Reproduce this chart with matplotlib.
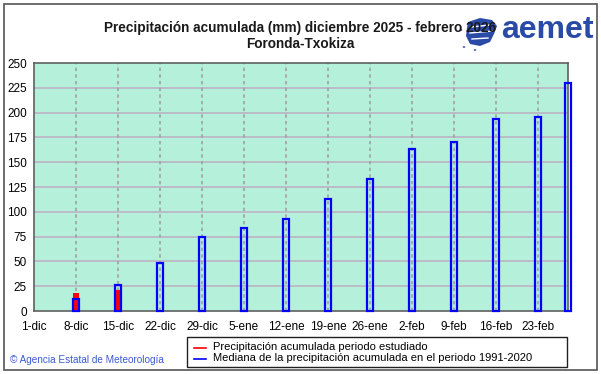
import matplotlib
matplotlib.use("Agg")
import matplotlib.pyplot as plt
from matplotlib.patches import Rectangle, Polygon, Circle
from matplotlib.lines import Line2D
import numpy as np

# Data (day offset from 1-dic)
tick_labels = ["1-dic", "8-dic", "15-dic", "22-dic", "29-dic", "5-ene", "12-ene",
               "19-ene", "26-ene", "2-feb", "9-feb", "16-feb", "23-feb"]
tick_days = [0, 7, 14, 21, 28, 35, 42, 49, 56, 63, 70, 77, 84]
median_days = [7, 14, 21, 28, 35, 42, 49, 56, 63, 70, 77, 84, 89]
median_vals = [12, 26, 48, 75, 84, 93, 113, 133, 163, 170, 194, 196, 230]
obs_days = [7, 14]
obs_vals = [18, 21]
yticks = [0, 25, 50, 75, 100, 125, 150, 175, 200, 225, 250]

W, H = 601, 374
fig = plt.figure(figsize=(W / 100, H / 100), dpi=100)
fig.patch.set_facecolor("white")

def fx(x):
    return x / W

def fy(y):
    return 1 - y / H

left, right, top, bottom = 34, 568, 63, 311
ax = fig.add_axes([fx(left), fy(bottom), (right - left) / W, (bottom - top) / H])
ax.set_facecolor("#b4f0da")
ax.set_xlim(0, 89)
ax.set_ylim(0, 250)

for y in yticks[1:-1]:
    ax.axhline(y, color="#bcb8c4", lw=1.3, zorder=1)
for d in tick_days[1:]:
    ax.axvline(d, color="#a0a0a0", lw=1.2, ls=(0, (2, 2)), zorder=1)

ax.bar(obs_days, obs_vals, width=1.0, color="#ff0000", zorder=2, linewidth=0)
ax.bar(median_days, median_vals, width=1.1, facecolor="none", edgecolor="#0000ff",
       linewidth=1.6, zorder=3, clip_on=False)

ax.set_xticks(tick_days)
ax.set_xticklabels(tick_labels, fontsize=8.5, family="Liberation Sans")
ax.set_yticks(yticks)
ax.set_yticklabels([str(v) for v in yticks], fontsize=8.5, family="Liberation Sans")
ax.tick_params(axis="x", length=0, pad=7)
ax.tick_params(axis="y", length=0, pad=5)
for s in ax.spines.values():
    s.set_color("#606060")
    s.set_linewidth(1.2)

# Titles
fig.text(fx(300), fy(28), "Precipitación acumulada (mm) diciembre 2025 - febrero 2026",
         ha="center", va="center", fontsize=9.8, fontweight="bold",
         family="Liberation Sans", color="#1a1a1a")
fig.text(fx(300), fy(44), "Foronda-Txokiza", ha="center", va="center", fontsize=9.8,
         fontweight="bold", family="Liberation Sans", color="#1a1a1a")

# aemet logo (approximation)
logo_col = "#2a4aa8"
blob = [(468, 22), (480, 18), (492, 20), (497, 26), (494, 34), (490, 42), (480, 46),
        (470, 44), (466, 36), (467, 28)]
fig.patches.append(Polygon([(fx(x), fy(y)) for x, y in blob], closed=True,
                           transform=fig.transFigure, facecolor=logo_col, edgecolor="none"))
for (x1, y1, x2, y2) in [(471, 27, 490, 25), (470, 33, 492, 31), (472, 39, 488, 38)]:
    fig.lines.append(Line2D([fx(x1), fx(x2)], [fy(y1), fy(y2)], transform=fig.transFigure,
                            color="white", lw=1.0))
for (x, y) in [(464, 47), (475, 50), (461, 30)]:
    fig.patches.append(Circle((fx(x), fy(y)), 1.3 / W, transform=fig.transFigure,
                              facecolor=logo_col, edgecolor="none"))
fig.text(fx(594), fy(38), "aemet", ha="right", va="baseline", fontsize=23,
         fontweight="bold", family="Liberation Sans", color=logo_col)

# Credit
fig.text(fx(10), fy(360), "© Agencia Estatal de Meteorología", ha="left", va="center",
         fontsize=7.2, family="Liberation Sans", color="#3a5ad0")

# Legend box
fig.patches.append(Rectangle((fx(187), fy(367)), (567 - 187) / W, (367 - 337) / H,
                             transform=fig.transFigure, facecolor="white",
                             edgecolor="#202020", lw=1))
fig.lines.append(Line2D([fx(194), fx(206)], [fy(348)] * 2, transform=fig.transFigure,
                        color="#ff0000", lw=1.2))
fig.lines.append(Line2D([fx(194), fx(206)], [fy(359)] * 2, transform=fig.transFigure,
                        color="#0000ff", lw=1.2))
fig.text(fx(213), fy(347), "Precipitación acumulada periodo estudiado", ha="left",
         va="center", fontsize=8, family="Liberation Sans", color="black")
fig.text(fx(213), fy(358), "Mediana de la precipitación acumulada en el periodo 1991-2020",
         ha="left", va="center", fontsize=8, family="Liberation Sans", color="black")

# Outer frame
fig.patches.append(Rectangle((fx(4), fy(370)), 593 / W, 366 / H, transform=fig.transFigure,
                             facecolor="none", edgecolor="#555555", lw=1.2))

fig.savefig("out.png", dpi=100)
